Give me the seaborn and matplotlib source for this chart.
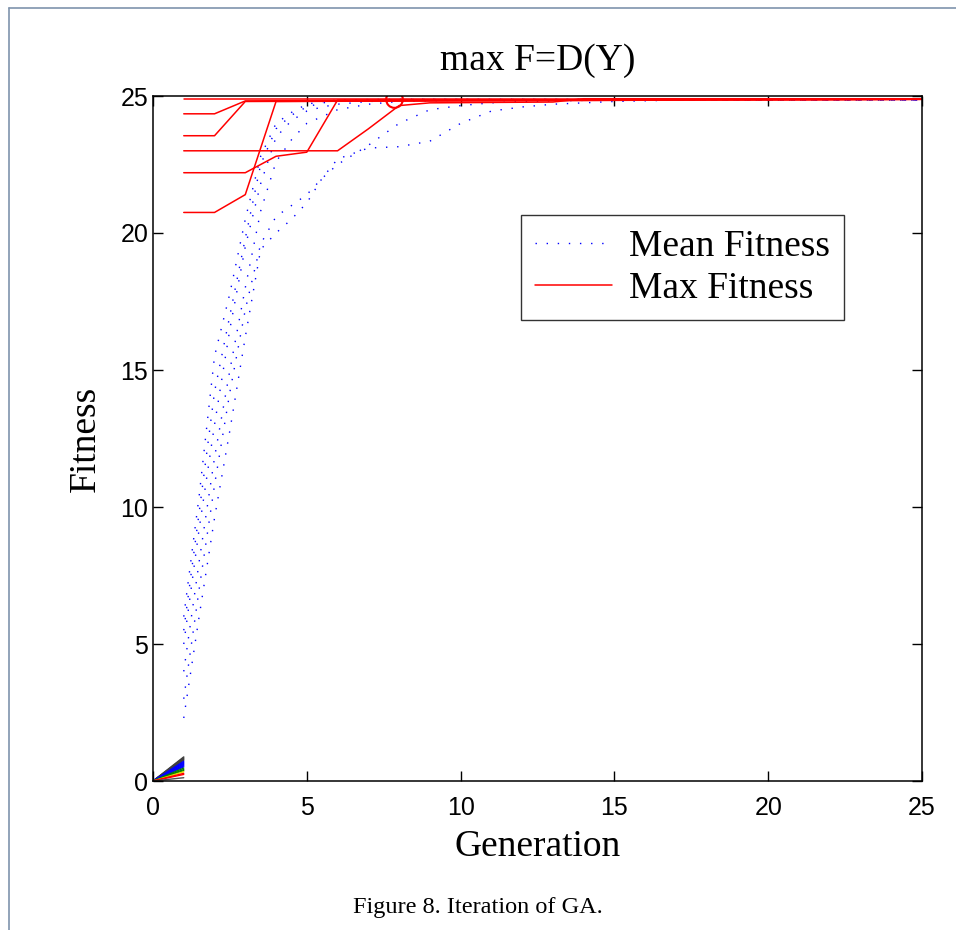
import matplotlib
matplotlib.use("Agg")
import matplotlib.pyplot as plt
from matplotlib.lines import Line2D
import numpy as np
import pandas as pd
import seaborn as sns

# ---------------- data ----------------
# mean fitness curves (6 GA runs), sampled on a shared generation grid
mean_gen = [1, 1.5, 2, 2.5, 3, 3.5, 4, 4.5, 5, 5.5, 6, 7, 8, 9, 10, 11, 12, 13, 14, 15, 17, 20, 25]
mean_run1 = [6.0, 10.4, 15.5, 17.8, 20.5, 22.8, 24.0, 24.4, 24.7, 24.8, 24.85, 24.87, 24.88, 24.88, 24.88,
             24.88, 24.88, 24.88, 24.88, 24.88, 24.88, 24.88, 24.88]
mean_run2 = [5.5, 9.8, 14.2, 17.0, 19.8, 22.5, 23.8, 24.3, 24.6, 24.75, 24.8, 24.85, 24.87, 24.87, 24.87,
             24.87, 24.87, 24.87, 24.87, 24.87, 24.87, 24.87, 24.87]
mean_run3 = [5.0, 9.2, 13.0, 16.5, 19.5, 21.8, 23.5, 24.1, 24.45, 24.6, 24.7, 24.8, 24.83, 24.85, 24.85,
             24.85, 24.85, 24.85, 24.85, 24.85, 24.85, 24.85, 24.85]
mean_run4 = [4.0, 8.0, 11.8, 15.0, 18.0, 20.8, 22.6, 23.4, 24.0, 24.25, 24.5, 24.7, 24.8, 24.82, 24.85,
             24.85, 24.85, 24.85, 24.85, 24.85, 24.85, 24.85, 24.85]
mean_run5 = [3.0, 7.0, 10.8, 14.2, 17.2, 19.6, 20.6, 21.0, 21.4, 22.0, 22.5, 23.2, 24.0, 24.5, 24.65,
             24.75, 24.8, 24.82, 24.84, 24.85, 24.85, 24.85, 24.85]
mean_run6 = [2.3, 6.0, 9.6, 12.8, 16.2, 19.4, 20.0, 20.5, 21.1, 22.0, 22.7, 23.1, 23.15, 23.35, 24.0,
             24.45, 24.6, 24.7, 24.75, 24.8, 24.85, 24.85, 24.85]

# max fitness curves (6 GA runs): generations where value changes, and values
max_gen_a = [1, 25]
max_val_a = [24.9, 24.9]
max_gen_b = [1, 2, 3, 8, 25]
max_val_b = [24.35, 24.35, 24.82, 24.85, 24.88]
max_gen_c = [1, 2, 3, 25]
max_val_c = [23.55, 23.55, 24.8, 24.88]
max_gen_d = [1, 6, 7, 8, 9, 13, 14, 25]
max_val_d = [23.0, 23.0, 23.8, 24.65, 24.75, 24.78, 24.9, 24.9]
max_gen_e = [1, 3, 4, 5, 6, 25]
max_val_e = [22.2, 22.2, 22.8, 22.95, 24.85, 24.88]
max_gen_f = [1, 2, 3, 4, 25]
max_val_f = [20.75, 20.75, 21.4, 24.8, 24.88]

# best point marker
best_gen = [7.85]
best_val = [24.9]

# small fan of lines near the origin (0 -> 1)
fan_end = [0.88, 0.85, 0.82, 0.79, 0.76, 0.72, 0.68, 0.64, 0.60, 0.56, 0.52, 0.47, 0.42, 0.38, 0.34, 0.28, 0.24, 0.12]
fan_color = ["#404040", "#404040", "#404040", "#404040", "#404040", "#0000ff", "#0000ff", "#0000ff",
             "#0000ff", "#0000ff", "#0000ff", "#008000", "#008000", "#008000", "#e0e000", "#ff0000",
             "#ff0000", "#505050"]

x_ticks = [0, 5, 10, 15, 20, 25]
y_ticks = [0, 5, 10, 15, 20, 25]

title_text = "max F=D(Y)"
x_label = "Generation"
y_label = "Fitness"
legend_labels = ["Mean Fitness", "Max Fitness"]
caption = "Figure 8. Iteration of GA."

# ---------------- build tables ----------------
mean_runs = [mean_run1, mean_run2, mean_run3, mean_run4, mean_run5, mean_run6]
df_mean = pd.concat([pd.DataFrame({"gen": mean_gen, "fit": r, "run": i}) for i, r in enumerate(mean_runs)],
                    ignore_index=True)
max_runs = [(max_gen_a, max_val_a), (max_gen_b, max_val_b), (max_gen_c, max_val_c),
            (max_gen_d, max_val_d), (max_gen_e, max_val_e), (max_gen_f, max_val_f)]
df_max = pd.concat([pd.DataFrame({"gen": g, "fit": v, "run": i}) for i, (g, v) in enumerate(max_runs)],
                   ignore_index=True)
df_fan = pd.concat([pd.DataFrame({"gen": [0, 1], "fit": [0, e], "line": i}) for i, e in enumerate(fan_end)],
                   ignore_index=True)

# ---------------- plot ----------------
sns.set_theme(style="white")
plt.rcParams["font.family"] = ["Liberation Sans", "DejaVu Sans"]
plt.rcParams["text.color"] = "black"
plt.rcParams["axes.labelcolor"] = "black"
plt.rcParams["xtick.color"] = "black"
plt.rcParams["ytick.color"] = "black"
serif = ["Liberation Serif", "DejaVu Serif"]

fig = plt.figure(figsize=(9.56, 9.30), dpi=100)
fig.patch.set_facecolor("white")
ax = fig.add_axes([153 / 956, 1 - 781 / 930, 769 / 956, 685 / 930])
ax.set_facecolor("white")

sns.lineplot(data=df_fan, x="gen", y="fit", hue="line", palette=dict(enumerate(fan_color)),
             estimator=None, legend=False, ax=ax, linewidth=1.0)

sns.lineplot(data=df_mean, x="gen", y="fit", units="run", estimator=None, color="blue",
             linestyle=(0, (1, 7)), linewidth=1.0, legend=False, ax=ax)

sns.lineplot(data=df_max, x="gen", y="fit", units="run", estimator=None, color="red",
             linewidth=1.1, legend=False, ax=ax)

ax.plot(best_gen, best_val, marker="o", markersize=12, markerfacecolor="none",
        markeredgecolor="red", markeredgewidth=1.5, linestyle="none")

ax.set_xlim(0, 25)
ax.set_ylim(0, 25)
ax.set_xticks(x_ticks)
ax.set_yticks(y_ticks)
ax.set_xticklabels([str(t) for t in x_ticks])
ax.set_yticklabels([str(t) for t in y_ticks])
ax.tick_params(axis="both", direction="in", length=7, width=1.0, colors="black", labelsize=18,
               top=True, right=True, bottom=True, left=True)
ax.tick_params(axis="x", pad=10.5)
ax.tick_params(axis="y", pad=3.5)
for s in ax.spines.values():
    s.set_visible(True)
    s.set_color("black")
    s.set_linewidth(1.1)

ax.set_xlabel(x_label, fontsize=27, family=serif, color="black")
ax.set_ylabel(y_label, fontsize=27, family=serif, color="black")
ax.xaxis.set_label_coords(0.5, -0.071)
ax.yaxis.set_label_coords(-0.0655, 0.5)

handles = [Line2D([], [], color="blue", linestyle=(0, (1, 7)), linewidth=1.0),
           Line2D([], [], color="red", linewidth=1.1)]
leg = ax.legend(handles, legend_labels, loc="upper left", bbox_to_anchor=(368 / 769, 566 / 685),
                borderaxespad=0, fancybox=False, frameon=True, prop={"family": serif, "size": 27},
                handlelength=2.05, handletextpad=0.45, labelspacing=0.2, borderpad=0.38)
leg.get_frame().set_edgecolor("black")
leg.get_frame().set_linewidth(1.0)
for t in leg.get_texts():
    t.set_color("black")

fig.text(537.5 / 956, 1 - 70 / 930, title_text, ha="center", va="baseline", fontsize=27, family=serif,
         color="black")
fig.text(478 / 956, 1 - 913 / 930, caption, ha="center", va="baseline", fontsize=17.5, family=serif,
         color="black")

# outer frame of the figure panel
fig.add_artist(Line2D([8.5 / 956, 8.5 / 956], [0, 1 - 8.5 / 930], transform=fig.transFigure,
                      color="#7f93ad", linewidth=1.2))
fig.add_artist(Line2D([8.5 / 956, 1], [1 - 8.5 / 930, 1 - 8.5 / 930], transform=fig.transFigure,
                      color="#7f93ad", linewidth=1.2))

fig.savefig("out.png", dpi=100, facecolor="white")
